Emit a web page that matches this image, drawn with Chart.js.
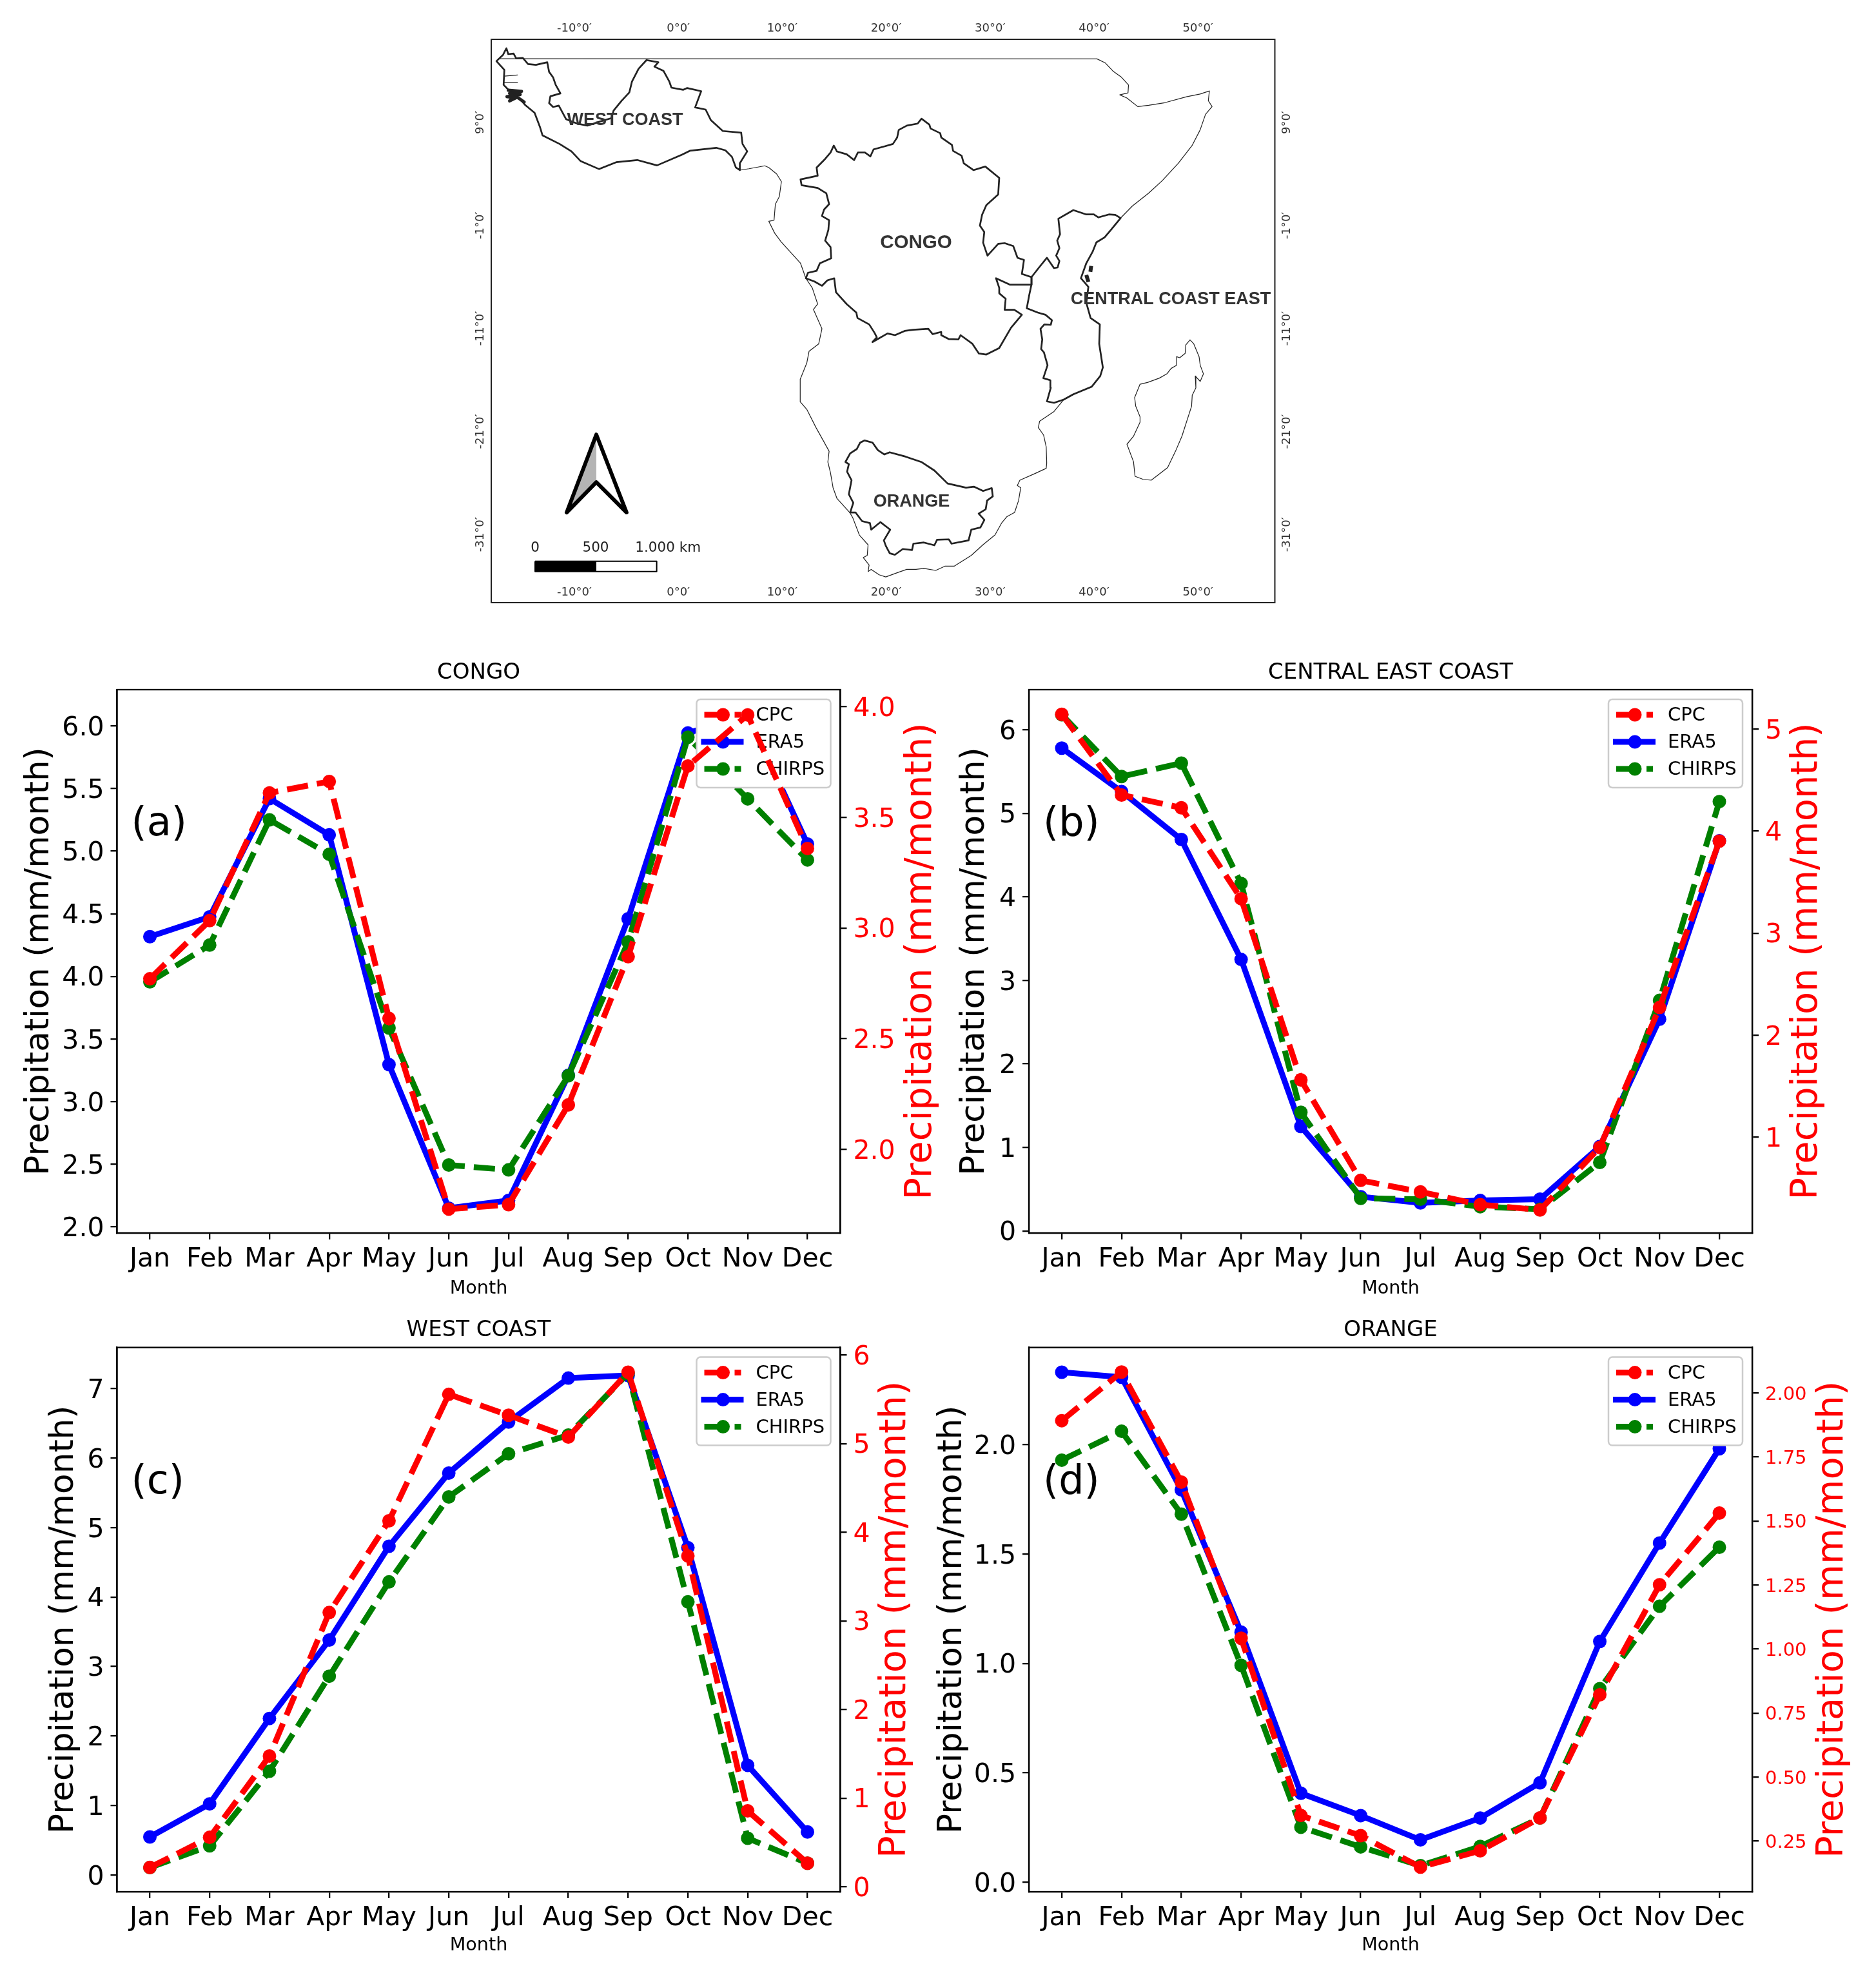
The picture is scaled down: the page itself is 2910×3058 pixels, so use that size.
<!DOCTYPE html>
<html>
<head>
<meta charset="utf-8">
<style>html,body{margin:0;padding:0;background:#fff;width:2910px;height:3058px;overflow:hidden}canvas{position:absolute;display:block}</style>
<script src="https://cdn.jsdelivr.net/npm/chart.js@4"></script>
</head>
<body>
<script>
const months = ['Jan','Feb','Mar','Apr','May','Jun','Jul','Aug','Sep','Oct','Nov','Dec'];
const seriesNames = ['CPC','ERA5','CHIRPS'];

const congoCPC    = [2.77,3.033,3.61,3.662,2.591,1.729,1.749,2.2,2.87,3.732,3.963,3.359];
const congoERA5   = [4.317,4.475,5.42,5.13,3.295,2.148,2.21,3.21,4.46,5.944,6.09,5.057];
const congoCHIRPS = [3.956,4.25,5.25,4.975,3.587,2.493,2.454,3.206,4.274,5.91,5.418,4.93];
const eastCPC     = [5.145,4.354,4.229,3.337,1.561,0.576,0.463,0.338,0.286,0.899,2.271,3.902];
const eastERA5    = [5.78,5.26,4.686,3.25,1.25,0.41,0.335,0.364,0.38,1.01,2.535,4.67];
const eastCHIRPS  = [6.18,5.44,5.6,4.16,1.42,0.39,0.38,0.29,0.26,0.82,2.76,5.14];
const westCPC     = [0.217,0.557,1.474,3.094,4.129,5.556,5.32,5.074,5.806,3.732,0.855,0.265];
const westERA5    = [0.548,1.024,2.253,3.38,4.73,5.783,6.518,7.15,7.187,4.71,1.578,0.62];
const westCHIRPS  = [0.108,0.42,1.494,2.86,4.217,5.44,6.06,6.33,7.217,3.93,0.53,0.17];
const orangeCPC   = [1.892,2.082,1.652,1.042,0.35,0.271,0.148,0.212,0.34,0.821,1.251,1.531];
const orangeERA5  = [2.331,2.308,1.793,1.143,0.406,0.304,0.193,0.293,0.454,1.10,1.55,1.981];
const orangeCHIRPS= [1.929,2.061,1.682,0.991,0.251,0.161,0.075,0.163,0.293,0.884,1.261,1.531];

const congoLeftTicks  = [2,2.5,3,3.5,4,4.5,5,5.5,6];
const congoRightTicks = [2,2.5,3,3.5,4];
const eastLeftTicks   = [0,1,2,3,4,5,6];
const eastRightTicks  = [1,2,3,4,5];
const westLeftTicks   = [0,1,2,3,4,5,6,7];
const westRightTicks  = [0,1,2,3,4,5,6];
const orangeLeftTicks = [0,0.5,1,1.5,2];
const orangeRightTicks= [0.25,0.5,0.75,1,1.25,1.5,1.75,2];

const lonTicks = [-10,0,10,20,30,40,50];
const latTicks = [9,-1,-11,-21,-31];

const coastTop = [[-17.24,15.18],[40.29,15.17]];
const coastEast = [[40.29,15.17],[41.07,14.79],[41.86,13.95],[42.64,13.39],[43.32,12.63],[43.27,11.87],[42.48,11.68],[43.16,11.38],[44.21,10.54],[45.25,10.66],[46.82,10.92],[48.9,11.49],[50.21,11.76],[51.1,12.06],[51.0,11.11],[51.36,10.54],[50.73,9.79],[50.21,8.27],[49.43,6.75],[48.12,5.05],[46.56,3.34],[45.25,2.13],[43.68,0.88],[42.56,-0.28]];
const coastSouth = [[37.08,-17.91],[36.15,-19.06],[34.77,-20.0],[34.64,-20.62],[35.15,-21.35],[35.4,-22.5],[35.45,-24.06],[35.4,-24.58],[34.26,-25.11],[32.87,-25.73],[32.62,-26.25],[32.95,-26.46],[32.74,-27.71],[32.36,-28.86],[31.6,-29.28],[31.1,-29.9],[30.47,-31.05],[29.33,-31.99],[28.19,-33.03],[26.54,-34.08],[25.65,-34.08],[24.77,-34.49],[23.63,-34.29],[22.87,-34.39],[21.98,-34.39],[21.1,-34.7],[19.96,-35.12],[19.32,-34.91],[18.56,-34.39],[18.26,-34.6],[18.36,-33.97],[17.8,-33.24],[18.18,-33.03],[18.26,-32.0],[17.42,-31.05],[16.79,-29.38],[16.49,-28.86],[15.27,-27.51],[14.89,-26.46],[14.64,-25.0],[14.39,-23.96],[14.51,-22.92],[14.0,-21.98],[13.25,-20.62],[12.36,-18.85],[11.73,-18.12],[11.73,-15.93],[12.36,-14.36],[12.58,-13.22],[13.51,-12.49],[13.82,-11.03],[13.0,-9.15],[13.41,-8.63],[12.89,-7.06],[12.27,-6.13],[11.76,-4.67],[9.89,-2.58],[9.27,-1.74],[8.71,-0.6],[9.21,-0.49],[9.34,1.07],[9.72,1.8],[9.92,3.26],[9.47,3.99],[8.71,4.62],[8.33,4.79],[6.81,4.51],[5.92,4.37]];
const madagascar = [[49.24,-12.11],[49.6,-12.49],[50.11,-13.74],[50.22,-14.57],[50.53,-15.41],[50.22,-16.14],[49.74,-15.62],[49.8,-16.76],[49.45,-17.49],[49.39,-18.54],[48.46,-21.46],[47.84,-22.92],[47.08,-24.51],[45.51,-25.73],[44.73,-25.65],[43.95,-25.35],[43.8,-23.94],[43.17,-22.24],[43.81,-21.45],[44.43,-20.1],[44.43,-19.58],[44.01,-18.53],[43.91,-17.7],[44.43,-16.41],[45.15,-16.24],[46.29,-15.82],[47.01,-15.41],[47.42,-14.88],[47.94,-14.57],[47.94,-13.74],[48.25,-13.84],[48.77,-13.42],[48.83,-12.59],[49.24,-12.11]];
const westBasin = [[5.92,4.37],[5.54,4.62],[5.16,5.66],[4.53,6.29],[3.65,6.54],[1.11,6.25],[0.35,5.87],[-2.05,4.83],[-3.95,5.35],[-5.98,5.14],[-7.62,4.47],[-9.39,5.24],[-10.28,6.19],[-11.42,6.91],[-13.07,7.75],[-13.32,8.58],[-13.83,9.94],[-14.71,10.67],[-15.34,11.4],[-16.41,12.24],[-16.81,12.65],[-16.74,14.11],[-17.5,14.95],[-16.86,15.57],[-16.54,16.2],[-16.36,15.63],[-15.85,15.68],[-15.6,15.22],[-14.96,15.26],[-14.46,14.67],[-13.7,14.59],[-12.61,14.84],[-12.43,13.9],[-12.05,13.38],[-11.8,12.65],[-11.34,11.82],[-12.31,11.54],[-12.43,10.88],[-12.05,10.5],[-11.5,10.63],[-10.79,9.31],[-9.77,8.9],[-8.76,8.69],[-7.5,9.1],[-6.43,9.42],[-6.23,10.15],[-5.47,11.09],[-4.71,11.92],[-4.46,12.96],[-3.82,14.21],[-3.06,15.05],[-1.92,14.84],[-2.3,14.42],[-1.42,14.0],[-0.86,12.96],[-0.66,12.38],[0.48,12.17],[0.86,12.34],[2.2,12.03],[1.62,10.46],[2.63,10.25],[3.14,9.21],[4.28,8.17],[6.05,8.0],[6.18,6.91],[6.63,6.19],[5.92,5.04],[5.92,4.37]];
const westIslets = [[-16.36,12.13],[-15.09,12.02],[-16.23,11.82],[-15.22,11.71],[-16.48,11.5],[-15.6,11.4],[-16.23,11.09],[-15.72,11.61],[-14.84,10.98]];
const westInletA = [[-16.74,13.49],[-15.47,13.6]];
const westInletB = [[-16.74,12.86],[-15.47,12.86]];
const congoBasin = [[18.68,-12.32],[19.1,-11.86],[18.89,-11.44],[18.37,-10.61],[17.24,-9.98],[17.13,-9.46],[16.2,-8.63],[15.17,-7.48],[15.0,-6.13],[14.34,-6.33],[13.82,-6.86],[13.1,-6.44],[12.27,-6.13],[12.48,-5.6],[13.31,-5.4],[13.62,-4.67],[14.71,-4.19],[14.65,-3.1],[14.13,-2.47],[14.44,-1.43],[14.51,-0.49],[13.82,-0.08],[14.03,0.55],[14.51,1.07],[14.24,2.12],[13.41,2.64],[11.86,2.91],[11.76,3.47],[13.41,3.83],[13.31,4.62],[14.03,5.35],[14.65,6.08],[14.96,6.75],[15.27,6.18],[16.2,5.91],[16.92,5.35],[17.28,6.08],[17.96,6.08],[18.48,5.7],[18.79,6.39],[19.92,6.7],[20.65,6.91],[21.06,7.54],[21.21,8.27],[21.99,8.69],[23.03,8.89],[23.4,9.37],[24.16,8.79],[24.27,8.41],[25.2,7.96],[25.3,7.54],[26.33,6.81],[26.44,6.24],[27.26,5.77],[27.47,5.03],[28.4,4.37],[29.54,4.72],[30.88,3.62],[30.78,2.01],[29.64,0.97],[29.23,0.03],[29.02,-1.01],[29.44,-1.64],[29.33,-2.68],[29.75,-3.93],[30.78,-2.79],[31.4,-2.72],[32.23,-3.0],[32.64,-4.14],[33.26,-4.35],[33.06,-5.71],[33.99,-6.02],[33.99,-6.75],[31.92,-6.75],[30.57,-6.13],[30.88,-7.06],[30.88,-7.59],[31.5,-8.11],[31.4,-9.19],[32.33,-9.19],[33.06,-9.67],[32.02,-10.92],[30.88,-12.9],[29.64,-13.53],[28.92,-13.43],[28.3,-12.49],[27.16,-11.65],[26.95,-12.07],[26.02,-12.03],[25.3,-11.65],[25.3,-11.34],[24.47,-11.55],[24.06,-11.03],[22.61,-11.13],[21.78,-11.24],[20.85,-11.65],[20.13,-11.49],[18.68,-12.32]];
const centralBasin = [[36.57,-0.35],[38.01,0.49],[39.26,0.07],[39.98,0.07],[40.43,-0.22],[41.43,0.07],[42.05,0.03],[42.56,-0.28],[41.63,-1.43],[41.01,-2.16],[40.23,-2.64],[39.88,-3.52],[39.26,-4.66],[38.74,-6.12],[39.46,-6.96],[39.26,-8.52],[39.67,-9.98],[40.56,-10.61],[40.5,-12.49],[40.85,-14.78],[40.6,-15.61],[39.77,-16.66],[38.01,-17.39],[37.08,-17.91],[36.15,-18.22],[35.47,-18.08],[35.84,-16.76],[35.8,-16.03],[35.12,-15.82],[35.53,-14.57],[35.18,-13.32],[34.91,-13.01],[35.02,-12.07],[34.85,-11.03],[35.22,-10.61],[35.84,-10.65],[35.95,-10.19],[35.33,-9.67],[34.6,-9.46],[33.53,-9.04],[33.78,-7.69],[33.98,-6.75],[33.98,-6.02],[34.71,-5.08],[35.47,-4.14],[36.15,-5.14],[36.5,-5.08],[36.67,-4.45],[36.36,-3.93],[36.67,-3.2],[36.46,-2.47],[36.73,-1.85],[36.57,-0.35]];
const islandA = [[39.73,-4.93],[39.65,-5.5]];
const islandB = [[39.26,-5.81],[39.46,-6.48]];
const orangeBasin = [[17.93,-21.87],[18.69,-22.08],[19.2,-22.81],[19.83,-23.23],[20.34,-23.02],[21.86,-23.44],[23.38,-23.96],[24.64,-24.79],[25.91,-26.05],[27.68,-26.46],[28.44,-26.36],[29.33,-26.78],[30.16,-26.5],[30.26,-27.3],[29.71,-27.71],[29.58,-28.55],[28.9,-28.97],[29.45,-29.59],[29.07,-30.32],[28.19,-30.53],[27.93,-31.57],[26.29,-31.89],[26.03,-31.47],[24.9,-31.51],[24.64,-32.05],[23.63,-31.78],[22.62,-31.89],[22.49,-32.51],[21.6,-32.41],[20.84,-32.97],[20.34,-32.82],[19.96,-32.09],[19.78,-31.57],[20.39,-30.53],[19.45,-29.8],[18.56,-30.53],[18.44,-29.9],[17.68,-29.7],[17.05,-28.86],[16.54,-28.86],[16.84,-27.92],[16.41,-27.09],[16.67,-25.73],[16.24,-24.9],[16.41,-24.17],[16.08,-23.96],[16.54,-23.12],[17.17,-22.71],[17.5,-22.08],[17.93,-21.87]];
const northArrow = [[-10.74,-28.86],[-7.89,-21.3],[-4.98,-28.86],[-7.89,-25.92],[-10.74,-28.86]];
const northArrowShade = [[-10.74,-28.86],[-7.89,-21.3],[-7.89,-25.92]];
const scaleBarBlack = [[-13.78,-34.1],[-7.89,-34.1]];
const scaleBarFrame = [[-13.78,-33.6],[-2.08,-33.6],[-2.08,-34.6],[-13.78,-34.6],[-13.78,-33.6]];
const scaleBarLabels = [['0',-13.78,-32.3],['500',-7.95,-32.3],['1.000 km',-0.99,-32.3]];
const basinLabels = [['WEST COAST',-5.13,9.2,27],['CONGO',22.88,-2.7,29.5],['CENTRAL COAST EAST',47.38,-8.2,27],['ORANGE',22.44,-27.8,27]];

const SANS = '"DejaVu Sans"';
const pts = arr => arr.map(p => ({x:p[0], y:p[1]}));
const lineStyles = {
  CPC:   {color:'#ff0000', dash:[33,14], width:9, order:0},
  ERA5:  {color:'#0000ff', dash:[],      width:9, order:2},
  CHIRPS:{color:'#008000', dash:[33,14], width:9, order:1}
};

function makeCanvas(left, top, w, h){
  const c = document.createElement('canvas');
  c.width = w; c.height = h;
  c.style.left = left + 'px'; c.style.top = top + 'px';
  c.style.width = w + 'px'; c.style.height = h + 'px';
  document.body.appendChild(c);
  return c;
}

const panelPlugin = {
  id:'panelDecor',
  afterDatasetDraw(chart, args, o){
    if (args.index !== 2) return;
    const ctx = chart.ctx, a = chart.chartArea;
    const w = 208, h = 137, x = a.right - 15 - w, y = a.top + 15;
    ctx.save();
    ctx.beginPath();
    ctx.roundRect(x, y, w, h, 6);
    ctx.fillStyle = '#ffffff';
    ctx.fill();
    ctx.lineWidth = 2.5;
    ctx.strokeStyle = '#cccccc';
    ctx.stroke();
    seriesNames.forEach((name, i) => {
      const s = lineStyles[name];
      const ry = y + 24 + i * 42;
      const solid = s.dash.length === 0;
      ctx.beginPath();
      ctx.setLineDash(s.dash);
      ctx.strokeStyle = s.color;
      ctx.lineWidth = s.width;
      ctx.moveTo(x + (solid ? 7 : 12), ry);
      ctx.lineTo(x + (solid ? 73 : 69), ry);
      ctx.stroke();
      ctx.setLineDash([]);
      ctx.beginPath();
      ctx.fillStyle = s.color;
      ctx.arc(x + 41, ry, 10.5, 0, Math.PI * 2);
      ctx.fill();
      ctx.fillStyle = '#000';
      ctx.font = '29px ' + SANS;
      ctx.textAlign = 'left';
      ctx.textBaseline = 'middle';
      ctx.fillText(name, x + 92, ry + 1.5);
    });
    ctx.restore();
  },
  afterDatasetsDraw(chart, args, o){
    const ctx = chart.ctx, a = chart.chartArea;
    ctx.save();
    ctx.lineWidth = 2.3;
    ctx.strokeStyle = '#000';
    ctx.strokeRect(a.left, a.top, a.right - a.left, a.bottom - a.top);
    ctx.fillStyle = '#000';
    ctx.font = '62px ' + SANS;
    ctx.textAlign = 'left';
    ctx.textBaseline = 'alphabetic';
    ctx.fillText(o.tag, a.left + 22, a.top + 226);
    ctx.translate(o.rightTitleX, (a.top + a.bottom) / 2);
    ctx.rotate(-Math.PI / 2);
    ctx.fillStyle = '#ff0000';
    ctx.font = '57.5px ' + SANS;
    ctx.textAlign = 'center';
    ctx.textBaseline = 'middle';
    ctx.fillText(o.rightTitle, 0, 0);
    ctx.restore();
  }
};

function panel(p){
  const canvas = makeCanvas(p.left, p.top, p.w, p.h);
  const ds = [[seriesNames[0], p.cpc, 'y2'], [seriesNames[1], p.era5, 'y'], [seriesNames[2], p.chirps, 'y']].map(([name, vals, axis]) => {
    const s = lineStyles[name];
    return {
      label:name,
      data:vals.map((v, i) => ({x:i, y:v})),
      yAxisID:axis,
      order:s.order,
      borderColor:s.color,
      backgroundColor:s.color,
      borderWidth:s.width,
      borderDash:s.dash,
      borderCapStyle:'butt',
      borderJoinStyle:'round',
      pointRadius:10.5,
      pointHoverRadius:10.5,
      pointBorderWidth:0,
      pointBackgroundColor:s.color,
      tension:0,
      fill:false
    };
  });
  const yCommon = {
    grid:{drawOnChartArea:false, drawTicks:true, tickLength:10, tickColor:'#000', lineWidth:2.3},
    border:{color:'#000', width:2.3}
  };
  new Chart(canvas.getContext('2d'), {
    type:'line',
    data:{datasets:ds},
    plugins:[panelPlugin],
    options:{
      responsive:false, animation:false, devicePixelRatio:1,
      events:[],
      layout:{padding:0},
      plugins:{
        legend:{display:false},
        tooltip:{enabled:false},
        title:{display:true, text:p.title, fullSize:false, color:'#000', font:{family:SANS, size:34, weight:'normal'}, padding:{top:p.titleTop, bottom:p.titleBottom}},
        panelDecor:{tag:p.tag, rightTitle:'Precipitation (mm/month)', rightTitleX:p.rightTitleX}
      },
      scales:{
        x:{
          type:'linear', position:'bottom', min:-0.55, max:11.55,
          afterBuildTicks:ax => { ax.ticks = months.map((m, i) => ({value:i})); },
          afterFit:ax => { ax.height = p.bottomH; },
          grid:{drawOnChartArea:false, drawTicks:true, tickLength:10, tickColor:'#000', lineWidth:2.3},
          border:{color:'#000', width:2.3},
          ticks:{autoSkip:false, maxRotation:0, minRotation:0, padding:7, color:'#000', font:{family:SANS, size:41}, callback:v => months[v]},
          title:{display:true, text:'Month', color:'#000', font:{family:SANS, size:28.6, weight:'normal'}, padding:{top:0, bottom:p.monthPad}}
        },
        y:Object.assign({}, yCommon, {
          type:'linear', position:'left', min:p.lMin, max:p.lMax,
          afterBuildTicks:ax => { ax.ticks = p.lTicks.map(v => ({value:v})); },
          afterFit:ax => { ax.width = p.leftW; },
          ticks:{autoSkip:false, padding:10, labelOffset:4, color:'#000', font:{family:SANS, size:41}, callback:v => v.toFixed(p.lDec)},
          title:{display:true, text:'Precipitation (mm/month)', color:'#000', font:{family:SANS, size:51.6, weight:'normal'}, padding:{top:p.leftTitlePad, bottom:0}}
        }),
        y2:Object.assign({}, yCommon, {
          type:'linear', position:'right', min:p.rMin, max:p.rMax,
          afterBuildTicks:ax => { ax.ticks = p.rTicks.map(v => ({value:v})); },
          afterFit:ax => { ax.width = p.rightW; },
          ticks:{autoSkip:false, padding:10, labelOffset:p.rOffset, color:'#ff0000', font:{family:SANS, size:p.rSize}, callback:v => v.toFixed(p.rDec)}
        })
      }
    }
  });
}

const rowA = {top:1015, h:1025, bottomH:127, titleTop:8.5, titleBottom:5.7, monthPad:23};
const rowC = {top:2040, h:1018, bottomH:123, titleTop:3.7, titleBottom:6.1, monthPad:22};

panel(Object.assign({}, rowA, {
  left:0, w:1470, leftW:181.5, rightW:166.5, title:'CONGO', tag:'(a)',
  cpc:congoCPC, era5:congoERA5, chirps:congoCHIRPS,
  lMin:1.95, lMax:6.29, rMin:1.621, rMax:4.077, lTicks:congoLeftTicks, rTicks:congoRightTicks, lDec:1, rDec:1, rSize:41, rOffset:4,
  leftTitlePad:31, rightTitleX:1429
}));
panel(Object.assign({}, rowA, {
  left:1470, w:1440, leftW:126, rightW:192, title:'CENTRAL EAST COAST', tag:'(b)',
  cpc:eastCPC, era5:eastERA5, chirps:eastCHIRPS,
  lMin:-0.025, lMax:6.48, rMin:0.06, rMax:5.387, lTicks:eastLeftTicks, rTicks:eastRightTicks, lDec:0, rDec:0, rSize:41, rOffset:4,
  leftTitlePad:12, rightTitleX:1333
}));
panel(Object.assign({}, rowC, {
  left:0, w:1440, leftW:181.5, rightW:136.5, title:'WEST COAST', tag:'(c)',
  cpc:westCPC, era5:westERA5, chirps:westCHIRPS,
  lMin:-0.24, lMax:7.59, rMin:-0.057, rMax:6.085, lTicks:westLeftTicks, rTicks:westRightTicks, lDec:0, rDec:0, rSize:41, rOffset:4,
  leftTitlePad:69, rightTitleX:1389
}));
panel(Object.assign({}, rowC, {
  left:1440, w:1470, leftW:156, rightW:192, title:'ORANGE', tag:'(d)',
  cpc:orangeCPC, era5:orangeERA5, chirps:orangeCHIRPS,
  lMin:-0.044, lMax:2.444, rMin:0.052, rMax:2.178, lTicks:orangeLeftTicks, rTicks:orangeRightTicks, lDec:1, rDec:2, rSize:29, rOffset:3,
  leftTitlePad:7, rightTitleX:1403
}));

/* map */
const mapPlugin = {
  id:'mapDecor',
  beforeDatasetsDraw(chart){
    const ctx = chart.ctx, X = chart.scales.x, Y = chart.scales.y;
    ctx.save();
    ctx.beginPath();
    northArrowShade.forEach((p, i) => {
      const px = X.getPixelForValue(p[0]), py = Y.getPixelForValue(p[1]);
      if (i) ctx.lineTo(px, py); else ctx.moveTo(px, py);
    });
    ctx.closePath();
    ctx.fillStyle = '#b4b4b4';
    ctx.fill();
    ctx.restore();
  },
  afterDatasetsDraw(chart){
    const ctx = chart.ctx, X = chart.scales.x, Y = chart.scales.y;
    ctx.save();
    ctx.textAlign = 'center';
    ctx.textBaseline = 'middle';
    ctx.fillStyle = '#333';
    basinLabels.forEach(l => {
      ctx.font = 'bold ' + l[3] + 'px "Liberation Sans"';
      ctx.fillText(l[0], X.getPixelForValue(l[1]), Y.getPixelForValue(l[2]));
    });
    ctx.fillStyle = '#222';
    ctx.font = '21.5px ' + SANS;
    scaleBarLabels.forEach(l => ctx.fillText(l[0], X.getPixelForValue(l[1]), Y.getPixelForValue(l[2])));
    ctx.lineWidth = 2;
    ctx.strokeStyle = '#222';
    ctx.strokeRect(62, 41, 1215.5, 874);
    ctx.restore();
  }
};

const mapLine = (arr, width, color, cap) => ({data:pts(arr), showLine:true, borderColor:color || '#222', backgroundColor:color || '#222', borderWidth:width, pointRadius:0, tension:0, fill:false, borderJoinStyle:'round', borderCapStyle:cap || 'round'});
const THIN = 1.2, THICK = 2.7;
const lonLabel = v => v + '°0′';
const mapAxisX = pos => ({
  type:'linear', position:pos, min:-18, max:57.4,
  afterBuildTicks:ax => { ax.ticks = lonTicks.map(v => ({value:v})); },
  afterFit:ax => { ax.height = pos === 'top' ? 41 : 55; },
  grid:{display:false}, border:{display:false},
  ticks:{autoSkip:false, maxRotation:0, minRotation:0, padding:pos === 'top' ? -2 : -4, color:'#333', font:{family:SANS, size:18}, callback:lonLabel}
});
const mapAxisY = pos => ({
  type:'linear', position:pos, min:-35.74, max:17.07,
  afterBuildTicks:ax => { ax.ticks = latTicks.map(v => ({value:v})); },
  afterFit:ax => { ax.width = pos === 'left' ? 62 : 72.5; },
  grid:{display:false}, border:{display:false},
  ticks:{autoSkip:false, maxRotation:90, minRotation:90, crossAlign:'center', padding:pos === 'left' ? -18 : -16, color:'#333', font:{family:SANS, size:18}, callback:lonLabel}
});
new Chart(makeCanvas(700, 20, 1350, 940).getContext('2d'), {
  type:'scatter',
  data:{datasets:[
    mapLine(coastTop, THIN), mapLine(coastEast, THIN), mapLine(coastSouth, THIN), mapLine(madagascar, THIN),
    mapLine(westBasin, THICK), mapLine(westIslets, 5), mapLine(westInletA, THIN), mapLine(westInletB, THIN),
    mapLine(congoBasin, THICK), mapLine(centralBasin, THICK), mapLine(islandA, 6, '#222', 'butt'), mapLine(islandB, 6, '#222', 'butt'), mapLine(orangeBasin, THICK),
    mapLine(northArrow, 6, '#000'), mapLine(scaleBarBlack, 16, '#000', 'butt'), mapLine(scaleBarFrame, 2, '#000', 'butt')
  ]},
  plugins:[mapPlugin],
  options:{
    responsive:false, animation:false, devicePixelRatio:1, events:[],
    layout:{padding:0},
    plugins:{legend:{display:false}, tooltip:{enabled:false}, mapDecor:{}},
    scales:{x:mapAxisX('bottom'), x2:mapAxisX('top'), y:mapAxisY('left'), y2:mapAxisY('right')}
  }
});
</script>
</body>
</html>
